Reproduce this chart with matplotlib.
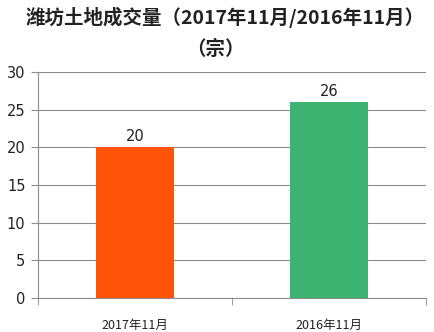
import matplotlib
matplotlib.use("Agg")
import matplotlib.pyplot as plt
from matplotlib.ticker import FixedLocator

plt.rcParams['font.family'] = ['Noto Sans CJK SC', 'DejaVu Sans']

categories = ["2017年11月", "2016年11月"]
values = [20, 26]
colors = ["#FF5309", "#3CB371"]
yticks = [0, 5, 10, 15, 20, 25, 30]

fig = plt.figure(figsize=(4.34, 3.32), dpi=100)
W, H = 434, 332
ax = fig.add_axes([38 / W, 1 - 298 / H, 388 / W, (298 - 72) / H])

x = list(range(len(categories)))
bars = ax.bar(x, values, width=0.4, color=colors, zorder=3)
for xi, v in zip(x, values):
    ax.text(xi, v + 0.4, str(v), ha='center', va='bottom', fontsize=10.5,
            family='DejaVu Sans', color='#222222')

ax.set_xlim(-0.5, len(categories) - 0.5)
ax.set_ylim(0, 30)
ax.set_yticks(yticks)
ax.set_yticklabels([str(t) for t in yticks], family='DejaVu Sans', fontsize=10.5, color='#222222')
ax.yaxis.grid(True, color='#8c8c8c', linewidth=0.8, zorder=0)

ax.set_xticks(x)
ax.set_xticklabels(categories, fontsize=9, color='#222222')
ax.xaxis.set_minor_locator(FixedLocator([-0.5, 0.5, 1.5]))
ax.tick_params(axis='x', which='major', length=0, pad=15)
ax.tick_params(axis='x', which='minor', length=5, color='#8c8c8c', direction='out')
ax.tick_params(axis='y', length=5, color='#8c8c8c', direction='out', pad=4)

for s in ['top', 'right']:
    ax.spines[s].set_visible(False)
for s in ['left', 'bottom']:
    ax.spines[s].set_color('#8c8c8c')
    ax.spines[s].set_linewidth(0.8)

fig.text(225 / W, 1 - 17 / H, "潍坊土地成交量（2017年11月/2016年11月）", ha='center', va='center',
         fontsize=14, fontweight='bold', color='#222222')
fig.text(215 / W, 1 - 49 / H, "（宗）", ha='center', va='center',
         fontsize=14, fontweight='bold', color='#222222')

fig.savefig("out.png", dpi=100)
